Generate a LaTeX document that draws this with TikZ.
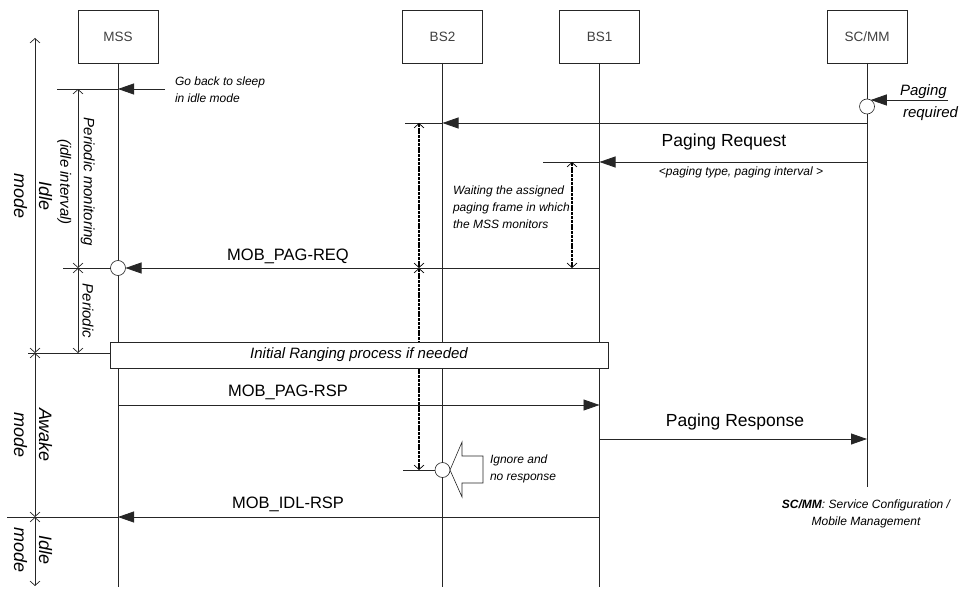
\documentclass[tikz,border=0pt]{standalone}
\usepackage{fontspec}
\setmainfont{Liberation Sans}
\usepackage{tikz}
\usetikzlibrary{arrows.meta, positioning, calc}

\begin{document}
\begin{tikzpicture}[
    x=1pt, y=-1pt,
    line width=0.8pt, black!85,
    every node/.style={inner sep=0pt, outer sep=0pt, text=black},
    actor/.style={draw, line width=0.6pt, minimum width=80pt, minimum height=53pt,
        font=\fontsize{13.5}{16}\selectfont, text=black!75},
    msg/.style={-{Triangle[length=16pt, width=11pt]}},
    span/.style={{Straight Barb[length=4.5pt, width=10pt, line width=0.7pt]}-{Straight Barb[length=4.5pt, width=10pt, line width=0.7pt]}, line width=0.7pt},
    waitspan/.style={span, black, line width=2.6pt, dash pattern=on 3pt off 0.8pt},
    event/.style={circle, draw, fill=white, minimum size=15pt, line width=0.6pt},
    msglabel/.style={font=\fontsize{16.5}{19}\selectfont},
    biglabel/.style={font=\fontsize{17.5}{20}\selectfont},
    note/.style={font=\fontsize{12}{17}\selectfont\itshape, align=left},
    triglabel/.style={font=\fontsize{15}{18}\selectfont\itshape},
    modelabel/.style={font=\fontsize{18}{25}\selectfont\itshape, rotate=-90, align=center},
    spanlabel/.style={font=\fontsize{15}{23.5}\selectfont\itshape, rotate=-90, align=center}
]
\useasboundingbox (0,0) rectangle (973,593);

% entities
\node[actor] (mss)  at (118,36.5)   {MSS};
\node[actor] (bs2)  at (442.5,36.5) {BS2};
\node[actor] (bs1)  at (599.5,36.5) {BS1};
\node[actor] (scmm) at (867,36.5)   {SC/MM};

% time levels
\coordinate (yTop)    at (0,38);
\coordinate (ySleep)  at (0,89);
\coordinate (yBS2)    at (0,123);
\coordinate (yReq)    at (0,162);
\coordinate (yPagReq) at (0,268);
\coordinate (yRang)   at (0,353);
\coordinate (yPagRsp) at (0,405);
\coordinate (yRsp)    at (0,439);
\coordinate (yIgn)    at (0,470);
\coordinate (yScEnd)  at (0,487);
\coordinate (yIdlRsp) at (0,517);
\coordinate (yBot)    at (0,586);
\coordinate (yEnd)    at (0,587);

% span columns
\coordinate (xMode)  at (35,0);
\coordinate (xIdle)  at (78,0);
\coordinate (xWait2) at (419,0);
\coordinate (xWait1) at (572,0);

% lifelines
\draw (mss)  -- (mss |- yEnd);
\draw (bs2)  -- (bs2 |- yEnd);
\draw (bs1)  -- (bs1 |- yEnd);
\draw (scmm) -- (scmm |- yScEnd);

% going back to sleep
\coordinate (sleepL) at (57,89);
\coordinate (sleepR) at (165,89);
\draw (sleepL) -- (mss |- ySleep);
\draw[msg] (sleepR) -- (mss |- ySleep);
\node[note, anchor=west] (sleepnote) at (175,90) {Go back to sleep\\in idle mode};

% paging trigger at SC/MM
\node[event] (trigger) at (867,106.5) {};
\coordinate (trigR) at (948,100);
\draw[msg] (trigR) -- (trigR -| trigger.60);
\node[triglabel, anchor=south west] (trigtop) at (900,98.5) {Paging};
\node[triglabel, anchor=north west] (trigbot) at (903,107) {required};

% SC/MM -> BS2
\coordinate (bs2L) at (405,123);
\draw[msg] (scmm |- yBS2) -- (bs2 |- yBS2);
\draw (bs2 |- yBS2) -- (bs2L);

% Paging Request
\coordinate (reqL) at (543,162);
\draw[msg] (scmm |- yReq) -- (bs1 |- yReq);
\draw (bs1 |- yReq) -- (reqL);
\node[biglabel] (reqlbl) at (724,142) {Paging Request};
\node[note] (reqsub) at (741,172) {<paging type, paging interval >};

% waiting periods
\draw[waitspan] (xWait2 |- yBS2) -- (xWait2 |- yPagReq);
\draw[waitspan] (xWait2 |- yPagReq) -- (xWait2 |- yIgn);
\draw[waitspan] (xWait1 |- yReq) -- (xWait1 |- yPagReq);
\node[note, anchor=west] (waitnote) at (453,207)
    {Waiting the assigned\\paging frame in which\\the MSS monitors};

% MOB_PAG-REQ
\node[event] (pagreq) at (mss |- yPagReq) {};
\coordinate (pagreqL) at (63,268);
\draw[msg] (bs1 |- yPagReq) -- (pagreq.east);
\draw (pagreq.west) -- (pagreqL);
\node[msglabel] (pagreqlbl) at (288,256) {MOB\_PAG-REQ};

% ranging
\node[draw, fill=white, line width=0.6pt, minimum width=498pt, minimum height=26pt,
    font=\fontsize{15}{18}\selectfont\itshape] (ranging) at (359,355)
    {Initial Ranging process if needed};
\coordinate (rangL) at (28,353);
\draw (rangL) -- (rangL -| ranging.west);

% MOB_PAG-RSP
\draw[msg] (mss |- yPagRsp) -- (bs1 |- yPagRsp);
\node[msglabel] (pagrsplbl) at (288,392) {MOB\_PAG-RSP};

% Paging Response
\draw[msg] (bs1 |- yRsp) -- (scmm |- yRsp);
\node[biglabel] (rsplbl) at (735,422) {Paging Response};

% BS2 ignores
\node[event] (ignore) at (bs2 |- yIgn) {};
\coordinate (ignL) at (403,470);
\draw (ignL) -- (ignore.west);
\draw[line width=0.6pt, fill=white] (ignore.east) -- (462,442) -- (462,456) -- (483,456)
    -- (483,483) -- (462,483) -- (462,497) -- cycle;
\node[note, anchor=west] (ignnote) at (490,469) {Ignore and\\no response};

% MOB_IDL-RSP
\coordinate (idlL) at (7,517);
\draw[msg] (bs1 |- yIdlRsp) -- (mss |- yIdlRsp);
\draw (mss |- yIdlRsp) -- (idlL);
\node[msglabel] (idlrsplbl) at (288,504) {MOB\_IDL-RSP};

% mode spans
\draw[span] (xMode |- yTop) -- (xMode |- yRang);
\draw[span] (xMode |- yRang) -- (xMode |- yIdlRsp);
\draw[span] (xMode |- yIdlRsp) -- (xMode |- yBot);
\draw[span] (xIdle |- ySleep) -- (xIdle |- yPagReq);
\draw[span] (xIdle |- yPagReq) -- (xIdle |- yRang);

\node[modelabel] (idlemode)  at (33,196) {Idle\\mode};
\node[spanlabel] (monlabel)  at (76,182) {Periodic monitoring\\(idle interval)};
\node[spanlabel] (perlabel)  at (88,311) {Periodic};
\node[modelabel] (awakemode) at (33,435) {Awake\\mode};
\node[modelabel] (idlemode2) at (33,550) {Idle\\mode};

% legend
\node[note, align=center] (legend) at (866,514)
    {\textbf{SC/MM}: Service Configuration /\\Mobile Management};

\end{tikzpicture}
\end{document}
